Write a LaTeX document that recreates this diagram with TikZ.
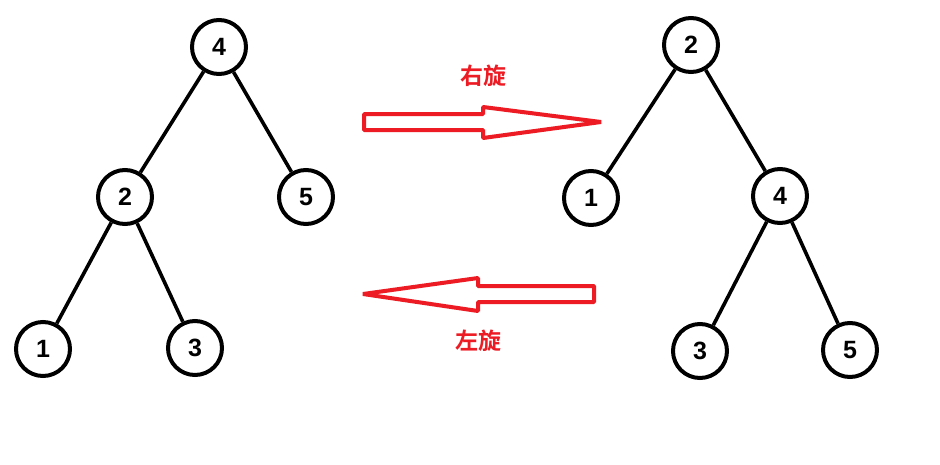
\documentclass[tikz,border=0pt]{standalone}
\usepackage{fontspec}
\setmainfont{Liberation Sans}
\newfontfamily\cjk{Noto Sans CJK SC}[BoldFont={* Bold}]
\definecolor{pred}{RGB}{237,28,36}
\begin{document}
\begin{tikzpicture}[x=1pt,y=-1pt,
  tnode/.style={circle,draw=black,line width=4pt,minimum size=54pt,inner sep=0pt,fill=white,font=\fontsize{25}{27}\selectfont\bfseries},
  tedge/.style={line width=3.6pt,black},
  rarrow/.style={draw=pred,line width=4pt,line join=bevel},
  rlabel/.style={text=pred,font=\cjk\fontsize{23}{25}\selectfont\bfseries,inner sep=0pt}]
\useasboundingbox[fill=white] (0,0) rectangle (940,464);
% left tree
\node[tnode] (l4) at (219,47) {4};
\node[tnode] (l2) at (125,197) {2};
\node[tnode] (l5) at (306,197) {5};
\node[tnode] (l1) at (43,349) {1};
\node[tnode] (l3) at (195,348) {3};
\draw[tedge] (l4) -- (l2);
\draw[tedge] (l4) -- (l5);
\draw[tedge] (l2) -- (l1);
\draw[tedge] (l2) -- (l3);
% right tree
\node[tnode] (r2) at (691,45) {2};
\node[tnode] (r1) at (591,198) {1};
\node[tnode] (r4) at (780,196) {4};
\node[tnode] (r3) at (700,351) {3};
\node[tnode] (r5) at (850,350) {5};
\draw[tedge] (r2) -- (r1);
\draw[tedge] (r2) -- (r4);
\draw[tedge] (r4) -- (r3);
\draw[tedge] (r4) -- (r5);
% arrows
\draw[rarrow] (364,114) -- (483,114) -- (483,107) -- (601,122) -- (483,138) -- (483,130) -- (364,130) -- cycle;
\draw[rarrow] (594,286) -- (478,286) -- (478,278) -- (363,294) -- (478,311) -- (478,302) -- (594,302) -- cycle;
\node[rlabel] (tr) at (483,76) {右旋};
\node[rlabel] (tl) at (478,341) {左旋};
\end{tikzpicture}
\end{document}
